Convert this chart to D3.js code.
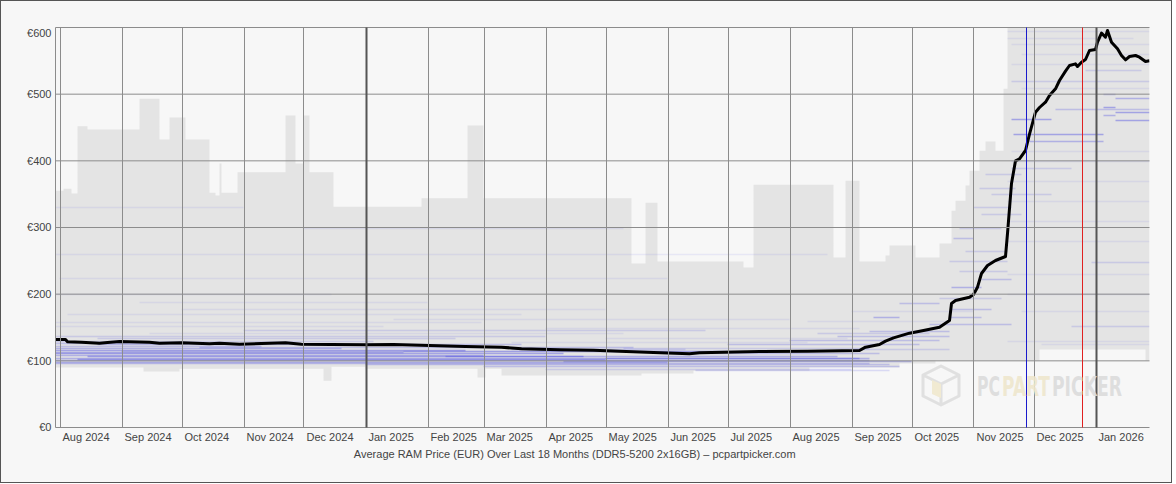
<!DOCTYPE html>
<html>
<head>
<meta charset="utf-8">
<script src="https://cdn.jsdelivr.net/npm/d3@7/dist/d3.min.js"></script>
<style>
  html, body { margin: 0; padding: 0; background: #ffffff; }
  svg { display: block; }
  text { font-family: 'Liberation Sans', Arial, sans-serif; }
</style>
</head>
<body>
<div id="chart"></div>
<script>
// Average price (EUR)
var avgPrice = [
  ['2024-07-30', 132], ['2024-08-04', 132], ['2024-08-05', 128.5], ['2024-08-12', 128],
  ['2024-08-21', 126.5], ['2024-08-25', 127.5], ['2024-08-31', 129], ['2024-09-15', 128],
  ['2024-09-20', 126.5], ['2024-10-01', 127], ['2024-10-15', 125.5], ['2024-10-20', 126.5],
  ['2024-10-30', 125], ['2024-11-10', 126], ['2024-11-22', 127], ['2024-11-30', 125],
  ['2024-12-15', 124.5], ['2025-01-01', 124], ['2025-01-15', 124.5], ['2025-02-02', 123],
  ['2025-02-20', 121.5], ['2025-03-10', 120.5], ['2025-03-20', 118], ['2025-04-08', 116.5],
  ['2025-04-25', 116], ['2025-05-08', 114.5], ['2025-05-25', 112.5], ['2025-06-12', 110.5],
  ['2025-06-17', 112], ['2025-07-17', 114], ['2025-08-10', 114.5], ['2025-09-05', 115.5],
  ['2025-09-08', 120.5], ['2025-09-15', 124.5], ['2025-09-18', 129.5], ['2025-09-22', 134.5],
  ['2025-09-30', 141.5], ['2025-10-07', 145.5], ['2025-10-15', 150.5], ['2025-10-20', 160.5],
  ['2025-10-21', 186], ['2025-10-23', 190.5], ['2025-10-30', 195.5], ['2025-11-01', 199.5],
  ['2025-11-03', 210.5], ['2025-11-05', 231], ['2025-11-08', 243], ['2025-11-12', 250.5],
  ['2025-11-17', 256.5], ['2025-11-18', 291], ['2025-11-20', 366], ['2025-11-22', 400],
  ['2025-11-24', 403], ['2025-11-27', 415.5], ['2025-11-29', 440], ['2025-12-02', 473],
  ['2025-12-04', 480], ['2025-12-07', 488], ['2025-12-09', 498], ['2025-12-12', 508],
  ['2025-12-14', 520.5], ['2025-12-17', 534.5], ['2025-12-19', 543], ['2025-12-22', 545.5],
  ['2025-12-23', 541.5], ['2025-12-25', 548], ['2025-12-27', 552], ['2025-12-29', 565.5],
  ['2026-01-01', 567], ['2026-01-02', 578], ['2026-01-04', 591.5], ['2026-01-06', 585.5],
  ['2026-01-07', 595.5], ['2026-01-09', 578], ['2026-01-12', 568], ['2026-01-14', 558],
  ['2026-01-16', 551.5], ['2026-01-18', 556.5], ['2026-01-21', 558], ['2026-01-23', 555.5],
  ['2026-01-26', 549], ['2026-01-28', 550]
]

// Highest listed price, step changes
var rangeHigh = [
  ['2024-07-30', 355], ['2024-08-03', 358], ['2024-08-07', 351], ['2024-08-10', 452],
  ['2024-08-15', 447], ['2024-09-10', 493], ['2024-09-20', 432], ['2024-09-25', 465],
  ['2024-10-03', 432], ['2024-10-15', 352], ['2024-10-18', 348], ['2024-10-20', 396],
  ['2024-10-21', 352], ['2024-10-29', 383], ['2024-11-22', 468], ['2024-11-27', 396],
  ['2024-12-01', 468], ['2024-12-04', 383], ['2024-12-16', 331], ['2025-01-29', 344],
  ['2025-02-21', 453], ['2025-03-01', 344], ['2025-05-14', 246], ['2025-05-21', 337],
  ['2025-05-27', 249], ['2025-07-09', 240], ['2025-07-14', 364], ['2025-08-23', 255],
  ['2025-08-29', 370], ['2025-09-05', 249], ['2025-09-18', 258], ['2025-09-20', 273],
  ['2025-10-03', 255], ['2025-10-15', 276], ['2025-10-21', 325], ['2025-10-23', 340],
  ['2025-10-28', 363], ['2025-10-30', 385], ['2025-11-04', 415], ['2025-11-07', 429],
  ['2025-11-12', 415], ['2025-11-16', 508], ['2025-11-18', 640], ['2026-01-28', 640]
]

// Lowest listed price, step changes
var rangeLow = [
  ['2024-07-30', 90], ['2024-09-12', 84], ['2024-09-30', 88], ['2024-12-11', 70],
  ['2024-12-15', 91], ['2025-01-01', 88], ['2025-02-26', 75], ['2025-03-02', 88],
  ['2025-03-10', 78], ['2025-05-19', 81], ['2025-06-14', 85], ['2025-08-11', 90],
  ['2025-09-25', 96], ['2025-10-13', 100], ['2025-12-04', 117], ['2026-01-26', 100],
  ['2026-01-28', 100]
]

// Individual listings: start, end, price, number of shops
var priceLines = [
  // 2024 - mid 2025 cluster
  ['2024-07-30', '2025-09-10', 97, 3], ['2024-07-30', '2025-06-01', 99, 4],
  ['2024-07-30', '2025-09-10', 101, 4], ['2024-08-10', '2025-05-01', 103, 5],
  ['2024-07-30', '2025-09-10', 105, 4], ['2024-08-15', '2025-04-20', 107, 5],
  ['2024-07-30', '2025-03-01', 109, 4], ['2024-07-30', '2025-04-10', 111, 5],
  ['2024-07-30', '2025-01-20', 113, 4], ['2024-09-01', '2025-07-10', 115, 3],
  ['2024-07-30', '2025-02-20', 117, 5], ['2024-07-30', '2024-12-20', 119, 4],
  ['2024-10-10', '2025-05-15', 121, 3], ['2024-07-30', '2024-11-10', 123, 3],
  ['2024-08-20', '2025-03-20', 125, 3], ['2024-07-30', '2024-09-20', 127, 3],
  ['2024-07-30', '2025-01-05', 130, 2], ['2024-08-20', '2025-02-15', 134, 2],
  ['2024-07-30', '2025-04-01', 138, 2], ['2024-09-15', '2025-05-10', 142, 1],
  ['2024-11-01', '2025-06-20', 147, 2], ['2024-07-30', '2025-01-10', 152, 1],
  ['2024-07-30', '2025-02-28', 158, 1], ['2025-01-15', '2025-08-01', 163, 1],
  ['2024-08-05', '2025-03-20', 170, 1], ['2024-10-01', '2025-05-01', 178, 1],
  ['2024-09-10', '2025-02-01', 188, 1], ['2024-07-30', '2024-12-15', 200, 1],
  ['2024-08-01', '2025-06-01', 225, 1], ['2024-07-30', '2025-08-20', 260, 1],
  ['2024-12-01', '2025-05-10', 300, 1], ['2024-07-30', '2024-11-01', 330, 1],
  // 2025 cluster
  ['2025-01-01', '2025-09-20', 95, 3], ['2025-03-01', '2025-09-25', 92, 3],
  ['2025-04-10', '2025-10-01', 100, 4], ['2025-02-10', '2025-08-25', 108, 4],
  ['2025-05-01', '2025-09-05', 104, 4], ['2025-06-01', '2025-09-15', 111, 3],
  ['2025-01-20', '2025-07-01', 115, 3], ['2025-03-15', '2025-06-10', 118, 2],
  ['2025-04-01', '2025-09-01', 88, 2], ['2025-06-15', '2025-09-20', 86, 2],
  ['2025-05-10', '2025-09-10', 120, 2], ['2025-03-15', '2025-08-10', 128, 1],
  ['2025-05-01', '2025-08-30', 135, 1], ['2025-04-01', '2025-09-05', 150, 1],
  ['2025-07-01', '2025-10-05', 125, 3], ['2025-08-01', '2025-10-15', 132, 3],
  ['2025-08-25', '2025-10-20', 138, 3], ['2025-09-10', '2025-10-20', 145, 3],
  ['2025-08-15', '2025-10-10', 142, 2], ['2025-09-01', '2025-10-20', 118, 2],
  ['2025-09-12', '2025-09-25', 166, 4], ['2025-09-25', '2025-10-15', 186, 3],
  ['2025-08-10', '2025-10-20', 160, 1], ['2025-09-01', '2025-11-01', 175, 1],
  ['2025-10-10', '2025-11-20', 155, 3], ['2025-10-20', '2025-11-05', 166, 3],
  ['2025-10-21', '2025-11-10', 178, 3], ['2025-10-21', '2025-11-05', 211, 4],
  ['2025-11-05', '2025-11-20', 223, 3], ['2025-10-22', '2025-11-01', 285, 3],
  ['2025-10-20', '2025-11-18', 250, 2], ['2025-10-25', '2025-11-15', 300, 2],
  ['2025-10-15', '2025-11-15', 195, 2], ['2025-10-25', '2025-11-18', 235, 2],
  ['2025-10-28', '2025-11-18', 265, 2], ['2025-11-01', '2025-11-20', 330, 2],
  ['2025-11-04', '2025-11-22', 360, 2], ['2025-11-07', '2025-11-25', 380, 2],
  ['2025-11-05', '2025-11-25', 320, 2], ['2025-11-10', '2025-12-10', 350, 2],
  ['2025-11-20', '2025-12-20', 390, 2], ['2025-11-20', '2025-12-10', 463, 5],
  ['2025-11-21', '2026-01-05', 441, 5], ['2025-11-29', '2026-01-05', 430, 4],
  ['2025-12-12', '2026-01-28', 477, 3], ['2026-01-05', '2026-01-11', 480, 5],
  ['2026-01-05', '2026-01-11', 468, 4], ['2026-01-11', '2026-01-28', 474, 5],
  ['2026-01-11', '2026-01-28', 461, 5], ['2026-01-11', '2026-01-28', 494, 4],
  ['2026-01-05', '2026-01-11', 501, 3], ['2025-12-27', '2026-01-24', 537, 2],
  ['2025-12-30', '2026-01-28', 248, 2], ['2025-12-20', '2026-01-28', 153, 2],
  ['2025-11-20', '2026-01-28', 520, 2], ['2025-11-25', '2026-01-28', 560, 1],
  ['2025-11-18', '2026-01-20', 585, 1], ['2025-11-20', '2026-01-28', 400, 1],
  ['2025-11-18', '2026-01-28', 340, 1], ['2025-11-18', '2026-01-28', 280, 1],
  ['2025-11-18', '2026-01-28', 200, 1], ['2025-11-25', '2026-01-28', 175, 1],
  ['2025-11-18', '2026-01-28', 230, 1], ['2025-11-18', '2026-01-28', 310, 1],
  ['2025-11-18', '2026-01-28', 370, 1], ['2025-11-20', '2026-01-28', 415, 1],
  ['2025-11-25', '2026-01-28', 510, 1], ['2025-11-20', '2026-01-28', 545, 1],
  ['2025-11-20', '2026-01-28', 575, 1], ['2025-11-18', '2026-01-28', 595, 1],
  ['2025-11-18', '2026-01-28', 130, 1], ['2025-12-05', '2026-01-28', 125, 1]
]

// Sale days marked with vertical lines
var eventDates = ['2025-11-27', '2025-12-25']
var yTicks = [0, 100, 200, 300, 400, 500, 600]
var caption = 'Average RAM Price (EUR) Over Last 18 Months (DDR5-5200 2x16GB) \u2013 pcpartpicker.com'

var width = 1176, height = 484
var plotLeft = 55.5, plotRight = 1149.5, plotTop = 27.5, plotBottom = 427.5
var parse = d3.utcParse('%Y-%m-%d')

var svg = d3.select('#chart').append('svg')
  .attr('width', width)
  .attr('height', height)

svg.append('rect')
  .attr('x', 0.5).attr('y', 0.5)
  .attr('width', 1171).attr('height', 482)
  .attr('fill', '#f7f7f7')
  .attr('stroke', '#555')

svg.append('clipPath').attr('id', 'plot')
  .append('rect')
  .attr('x', plotLeft).attr('y', plotTop)
  .attr('width', plotRight - plotLeft).attr('height', plotBottom - plotTop)

var x = d3.scaleUtc()
  .domain([parse('2024-07-30'), parse('2026-01-28')])
  .range([plotLeft, plotRight])

var y = d3.scaleLinear()
  .domain([0, 600])
  .range([plotBottom, plotTop])

// min / max envelope on a merged set of dates
function stepValue(steps, t) {
  var v = steps[0][1]
  steps.forEach(function (s) { if (parse(s[0]) <= t) v = s[1] })
  return v
}
var envDates = d3.sort(Array.from(new Set(rangeHigh.concat(rangeLow).map(function (d) { return d[0] }))))
var envelope = envDates.map(function (d) {
  var t = parse(d)
  return { t: t, hi: stepValue(rangeHigh, t), lo: stepValue(rangeLow, t) }
})

var plot = svg.append('g').attr('clip-path', 'url(#plot)')

plot.append('path')
  .datum(envelope)
  .attr('fill', '#e4e4e4')
  .attr('d', d3.area()
    .curve(d3.curveStepAfter)
    .x(function (d) { return x(d.t) })
    .y0(function (d) { return y(d.lo) })
    .y1(function (d) { return y(d.hi) }))

var shade = d3.scaleLinear().domain([1, 5]).range([0.08, 0.36])
plot.append('g')
  .selectAll('line')
  .data(priceLines)
  .join('line')
  .attr('x1', function (d) { return x(parse(d[0])) })
  .attr('x2', function (d) { return x(parse(d[1])) })
  .attr('y1', function (d) { return Math.round(y(d[2])) + 0.5 })
  .attr('y2', function (d) { return Math.round(y(d[2])) + 0.5 })
  .attr('stroke', '#3030e0')
  .attr('stroke-opacity', function (d) { return shade(d[3]) })
  .attr('stroke-width', 1.6)

// grid
var grid = svg.append('g')
grid.selectAll('line.h')
  .data(yTicks)
  .join('line')
  .attr('class', 'h')
  .attr('x1', plotLeft).attr('x2', plotRight)
  .attr('y1', function (d) { return y(d) })
  .attr('y2', function (d) { return y(d) })
  .attr('stroke', '#8c8c8c')

var months = x.ticks(d3.utcMonth.every(1)).filter(function (d) { return x(d) > plotLeft + 1 })
grid.selectAll('line.v')
  .data(months)
  .join('line')
  .attr('class', 'v')
  .attr('x1', function (d) { return Math.round(x(d)) + 0.5 })
  .attr('x2', function (d) { return Math.round(x(d)) + 0.5 })
  .attr('y1', plotTop).attr('y2', plotBottom)
  .attr('stroke', function (d) { return d.getUTCMonth() === 0 ? '#555' : '#8c8c8c' })
  .attr('stroke-width', function (d) { return d.getUTCMonth() === 0 ? 2 : 1 })

grid.append('line')
  .attr('x1', plotLeft).attr('x2', plotLeft)
  .attr('y1', plotTop).attr('y2', plotBottom)
  .attr('stroke', '#8c8c8c')

svg.append('g')
  .selectAll('line')
  .data(eventDates)
  .join('line')
  .attr('x1', function (d) { return Math.round(x(parse(d))) + 0.5 })
  .attr('x2', function (d) { return Math.round(x(parse(d))) + 0.5 })
  .attr('y1', plotTop).attr('y2', plotBottom)
  .attr('stroke', function (d, i) { return i === 0 ? '#1a1acc' : '#e02020' })

// watermark
var wm = svg.append('g').attr('opacity', 0.9)
wm.append('path')
  .attr('d', 'M941,366 L959,375 L959,396 L941,405 L923,396 L923,375 Z M923,375 L941,384 L959,375 M941,384 L941,405')
  .attr('fill', 'none')
  .attr('stroke', '#dedede')
  .attr('stroke-width', 3)
  .attr('stroke-linejoin', 'round')
wm.append('path')
  .attr('d', 'M932,380 L941,384 L941,398 L932,394 Z')
  .attr('fill', '#f1e9cf')
var wmParts = [
  { t: 'PC', x: 977, w: 23, c: '#dcdcdc' },
  { t: 'PART', x: 1002, w: 48, c: '#efe7cd' },
  { t: 'PICKER', x: 1052, w: 70, c: '#dcdcdc' }
]
// squeeze each word to its width so the logo keeps its narrow look
wm.selectAll('text')
  .data(wmParts)
  .join('text')
  .attr('font-size', 27)
  .attr('font-weight', 'bold')
  .attr('fill', function (d) { return d.c })
  .style('font-family', "'Liberation Sans Narrow', 'DejaVu Sans', sans-serif")
  .text(function (d) { return d.t })
  .attr('transform', function (d) {
    var len = this.getComputedTextLength() || d.w
    return 'translate(' + d.x + ',396) scale(' + (d.w / len) + ',1)'
  })

// average line
plot.append('path')
  .datum(avgPrice)
  .attr('fill', 'none')
  .attr('stroke', '#000')
  .attr('stroke-width', 3)
  .attr('stroke-linejoin', 'round')
  .attr('d', d3.line()
    .x(function (d) { return x(parse(d[0])) })
    .y(function (d) { return y(d[1]) }))

// labels
svg.append('g')
  .selectAll('text')
  .data(yTicks)
  .join('text')
  .attr('x', plotLeft - 4)
  .attr('y', function (d) { return Math.max(y(d), plotTop + 6) })
  .attr('dy', '0.35em')
  .attr('text-anchor', 'end')
  .attr('font-size', 11)
  .attr('fill', '#444')
  .text(function (d) { return '\u20ac' + d })

svg.append('g')
  .selectAll('text')
  .data(months)
  .join('text')
  .attr('x', function (d) { return x(d) + 3 })
  .attr('y', plotBottom + 13)
  .attr('font-size', 11)
  .attr('fill', '#444')
  .text(d3.utcFormat('%b %Y'))

svg.append('text')
  .attr('x', plotRight / 2)
  .attr('y', plotBottom + 30)
  .attr('text-anchor', 'middle')
  .attr('font-size', 11)
  .attr('fill', '#444')
  .text(caption)
</script>
</body>
</html>
